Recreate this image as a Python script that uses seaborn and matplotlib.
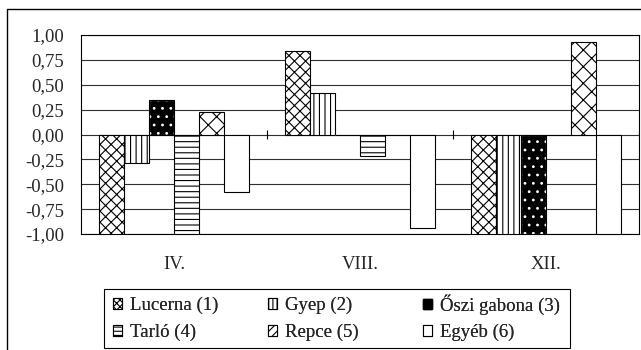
import numpy as np
import pandas as pd
import matplotlib.pyplot as plt
import seaborn as sns
from matplotlib.patches import Patch, Rectangle
from matplotlib.ticker import FuncFormatter

sns.set_style("white")
plt.rcParams.update({
    "font.family": ["Liberation Serif", "DejaVu Serif"],
    "font.size": 13.5,
    "hatch.linewidth": 0.8,
})

months = ["IV.", "VIII.", "XII."]
crops = ["Lucerna (1)", "Gyep (2)", "Őszi gabona (3)", "Tarló (4)", "Repce (5)", "Egyéb (6)"]

# values per crop for IV., VIII., XII.
lucerna = [-1.00, 0.84, -1.00]
gyep = [-0.29, 0.42, -1.00]
oszi = [0.35, 0.00, -1.00]
tarlo = [-1.00, -0.22, 0.00]
repce = [0.23, 0.00, 0.93]
egyeb = [-0.58, -0.94, -1.00]

hatches = ["xxx", "|||", "..", "---", "xx", ""]
legend_hatches = ["xxxxx", "||||", "", "----", "////", ""]

all_vals = [lucerna, gyep, oszi, tarlo, repce, egyeb]
rows = []
for crop, vals in zip(crops, all_vals):
    for m, v in zip(months, vals):
        rows.append({"honap": m, "tipus": crop, "ertek": v})
df = pd.DataFrame(rows)

fig = plt.figure(figsize=(6.41, 3.5), dpi=100)
ax = fig.add_axes([81 / 641, 1 - 234 / 350, 558 / 641, 199 / 350])

sns.barplot(
    data=df, x="honap", y="ertek", hue="tipus", order=months, hue_order=crops,
    palette=["white"] * len(crops), saturation=1, width=0.81,
    edgecolor="black", linewidth=0.8, legend=False, ax=ax, zorder=3,
)

# hatches per series
for i, cont in enumerate(ax.containers):
    for bar in cont:
        bar.set_hatch(hatches[i])
        if i == 2:
            bar.set_facecolor("black")
            bar.set_edgecolor("white")
            ax.add_patch(Rectangle((bar.get_x(), bar.get_y()), bar.get_width(), bar.get_height(),
                                   fill=False, edgecolor="black", linewidth=0.8, zorder=4))

ax.set_ylim(-1, 1)
ax.set_xlim(-0.5, 2.5)
ax.set_yticks(np.arange(-1, 1.01, 0.25))
ax.yaxis.set_major_formatter(FuncFormatter(lambda v, p: f"{v:.2f}".replace(".", ",")))
ax.yaxis.grid(True, color="#303030", linewidth=0.8)
ax.set_axisbelow(True)
ax.tick_params(axis="y", length=4, width=0.8, color="black", pad=8)
ax.tick_params(axis="x", length=0, pad=16)
ax.set_xlabel("")
ax.set_ylabel("")
for s in ax.spines.values():
    s.set_color("black")
    s.set_linewidth(0.8)

# group separator ticks on the zero line
ax.vlines([0.5, 1.5, 2.5], -0.05, 0.05, color="black", linewidth=0.8, zorder=5)

# outer frame
fig.patches.append(Rectangle((7 / 641, -0.1), 1.2, 1 - 9 / 350 + 0.1, transform=fig.transFigure,
                             fill=False, edgecolor="black", linewidth=1.0))

# legend: box plus three equal-width columns
fig.patches.append(Rectangle((104 / 641, 2 / 350), 466 / 641, 59 / 350, transform=fig.transFigure,
                             fill=False, edgecolor="black", linewidth=0.8))
handles = []
for i, crop in enumerate(crops):
    if i == 2:
        handles.append(Patch(facecolor="black", edgecolor="black", label=crop))
    else:
        handles.append(Patch(facecolor="white", edgecolor="black", linewidth=0.8,
                             hatch=legend_hatches[i], label=crop))
col_x = [113, 268, 423]
col_y = [297, 297, 294]
for c in range(3):
    leg = fig.legend(
        [handles[c], handles[c + 3]], [crops[c], crops[c + 3]],
        ncol=1, loc="upper left", bbox_to_anchor=(col_x[c] / 641, 1 - col_y[c] / 350),
        frameon=False, handlelength=0.5, handleheight=0.5, handletextpad=0.4,
        borderpad=0, labelspacing=0.5, borderaxespad=0,
    )
    fig.add_artist(leg)

fig.savefig("out.png", dpi=100)
